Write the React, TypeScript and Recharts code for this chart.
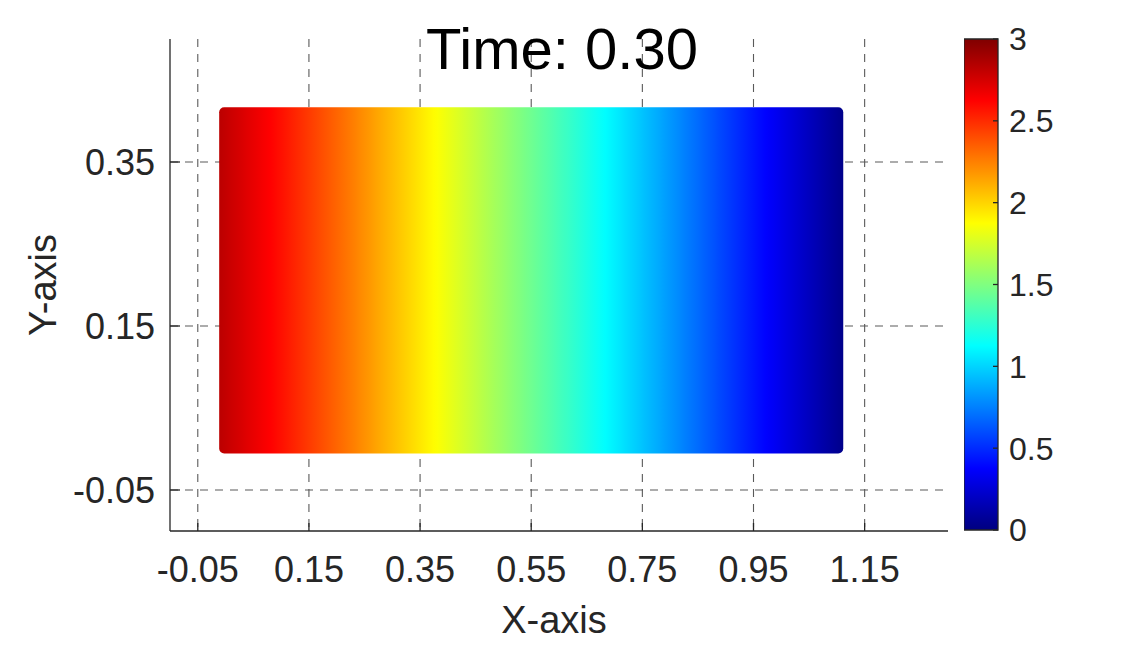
import React from "react";
import {
  ComposedChart,
  XAxis,
  YAxis,
  CartesianGrid,
  ReferenceArea,
} from "recharts";

// ---- data ----
const X_TICKS = [-0.05, 0.15, 0.35, 0.55, 0.75, 0.95, 1.15];
const Y_TICKS = [-0.05, 0.15, 0.35];
const CB_TICKS = [0, 0.5, 1, 1.5, 2, 2.5, 3];
const X_DOMAIN = [-0.1, 1.3];
const Y_DOMAIN = [-0.1, 0.5];
const CB_DOMAIN = [0, 3];

// colour value along x (the field is uniform in y)
const PROFILE_X = [0, 0.1, 0.2, 0.3, 0.4, 0.5, 0.6, 0.7, 0.8, 0.9, 1.0, 1.1];
const PROFILE_V = [2.8, 2.58, 2.33, 2.07, 1.82, 1.57, 1.33, 1.08, 0.82, 0.56, 0.31, 0.06];

// extent of the scattered field (data units, incl. marker size)
const FIELD_X = [-0.0115, 1.1115];
const FIELD_Y = [-0.0055, 0.4168];

const TITLE = "Time: 0.30";
const X_LABEL = "X-axis";
const Y_LABEL = "Y-axis";

// ---- helpers ----
const clamp = (v: number) => Math.max(0, Math.min(1, v));
const jet = (t: number) => {
  const r = clamp(1.5 - Math.abs(4 * t - 3));
  const g = clamp(1.5 - Math.abs(4 * t - 2));
  const b = clamp(1.5 - Math.abs(4 * t - 1));
  const h = (c: number) => Math.round(c * 255).toString(16).padStart(2, "0");
  return `#${h(r)}${h(g)}${h(b)}`;
};

const profileAt = (x: number) => {
  const n = PROFILE_X.length;
  let i = 0;
  if (x <= PROFILE_X[0]) i = 0;
  else if (x >= PROFILE_X[n - 1]) i = n - 2;
  else {
    while (i < n - 2 && x > PROFILE_X[i + 1]) i++;
  }
  const x0 = PROFILE_X[i];
  const x1 = PROFILE_X[i + 1];
  const v0 = PROFILE_V[i];
  const v1 = PROFILE_V[i + 1];
  return v0 + ((x - x0) / (x1 - x0)) * (v1 - v0);
};

const N_STOPS = 160;
const fieldStops = Array.from({ length: N_STOPS + 1 }, (_, i) => {
  const f = i / N_STOPS;
  const x = FIELD_X[0] + f * (FIELD_X[1] - FIELD_X[0]);
  const v = profileAt(x);
  return { offset: f, color: jet((v - CB_DOMAIN[0]) / (CB_DOMAIN[1] - CB_DOMAIN[0])) };
});
const cbStops = Array.from({ length: 65 }, (_, i) => ({
  offset: i / 64,
  color: jet(i / 64),
}));

const AX = "#262626";
const FONT = "'Liberation Sans', Arial, Helvetica, sans-serif";
const fmt2 = (v: number) => v.toFixed(2);

export default function App() {
  return (
    <div
      style={{
        position: "absolute",
        left: 0,
        top: 0,
        width: 1125,
        height: 656,
        background: "#ffffff",
        fontFamily: FONT,
        overflow: "hidden",
      }}
    >
      <svg width={0} height={0} style={{ position: "absolute" }}>
        <defs>
          <linearGradient id="fieldGrad" x1="0" y1="0" x2="1" y2="0">
            {fieldStops.map((s, i) => (
              <stop key={i} offset={s.offset} stopColor={s.color} />
            ))}
          </linearGradient>
          <linearGradient id="cbGrad" x1="0" y1="1" x2="0" y2="0">
            {cbStops.map((s, i) => (
              <stop key={i} offset={s.offset} stopColor={s.color} />
            ))}
          </linearGradient>
        </defs>
      </svg>

      <div style={{ position: "absolute", left: 0, top: 0 }}>
        <ComposedChart
          width={1125}
          height={656}
          data={PROFILE_X.map((x, i) => ({ x, v: PROFILE_V[i] }))}
          margin={{ top: 39, right: 177, bottom: 65, left: 70 }}
        >
          <CartesianGrid
            stroke="#5a5a5a"
            strokeDasharray="8 7"
            strokeWidth={1.1}
            verticalValues={X_TICKS}
            horizontalValues={Y_TICKS}
          />
          <XAxis
            type="number"
            dataKey="x"
            domain={X_DOMAIN}
            ticks={X_TICKS}
            tickFormatter={fmt2}
            allowDataOverflow
            height={60}
            stroke={AX}
            axisLine={{ stroke: AX, strokeWidth: 1.3 }}
            tickLine={{ stroke: AX, strokeWidth: 1.3 }}
            tickSize={-8}
            tickMargin={33}
            tick={{ fill: AX, fontSize: 36, fontFamily: FONT }}
            interval={0}
          />
          <YAxis
            type="number"
            domain={Y_DOMAIN}
            ticks={Y_TICKS}
            tickFormatter={fmt2}
            allowDataOverflow
            width={100}
            stroke={AX}
            axisLine={{ stroke: AX, strokeWidth: 1.3 }}
            tickLine={{ stroke: AX, strokeWidth: 1.3 }}
            tickSize={-10}
            tickMargin={25}
            tick={{ fill: AX, fontSize: 36, fontFamily: FONT }}
            interval={0}
          />
          <ReferenceArea
            x1={FIELD_X[0]}
            x2={FIELD_X[1]}
            y1={FIELD_Y[0]}
            y2={FIELD_Y[1]}
            fill="url(#fieldGrad)"
            fillOpacity={1}
            stroke="none"
            radius={5}
            ifOverflow="visible"
          />
        </ComposedChart>
      </div>

      <div style={{ position: "absolute", left: 964, top: 0, width: 161, height: 656 }}>
        <ComposedChart
          width={161}
          height={656}
          data={CB_TICKS.map((t) => ({ t }))}
          margin={{ top: 39, right: 47, bottom: 126, left: 0 }}
        >
          <YAxis
            type="number"
            dataKey="t"
            orientation="right"
            domain={CB_DOMAIN}
            ticks={CB_TICKS}
            width={80}
            axisLine={false}
            tickLine={{ stroke: AX, strokeWidth: 1.3 }}
            tickSize={-5}
            tickMargin={16}
            tick={{ fill: AX, fontSize: 32, fontFamily: FONT }}
            interval={0}
          />
          <ReferenceArea
            y1={CB_DOMAIN[0]}
            y2={CB_DOMAIN[1]}
            fill="url(#cbGrad)"
            fillOpacity={1}
            stroke={AX}
            strokeWidth={1.3}
            ifOverflow="visible"
          />
        </ComposedChart>
      </div>

      <svg
        width={1125}
        height={656}
        style={{ position: "absolute", left: 0, top: 0, pointerEvents: "none" }}
      >
        <text
          x={562}
          y={69}
          textAnchor="middle"
          fontSize={58}
          fontFamily={FONT}
          fill="#000000"
        >
          {TITLE}
        </text>
        <text
          x={554}
          y={633}
          textAnchor="middle"
          fontSize={38}
          fontFamily={FONT}
          fill={AX}
        >
          {X_LABEL}
        </text>
        <text
          transform="translate(56,285) rotate(-90)"
          textAnchor="middle"
          fontSize={38}
          fontFamily={FONT}
          fill={AX}
        >
          {Y_LABEL}
        </text>
      </svg>
    </div>
  );
}
